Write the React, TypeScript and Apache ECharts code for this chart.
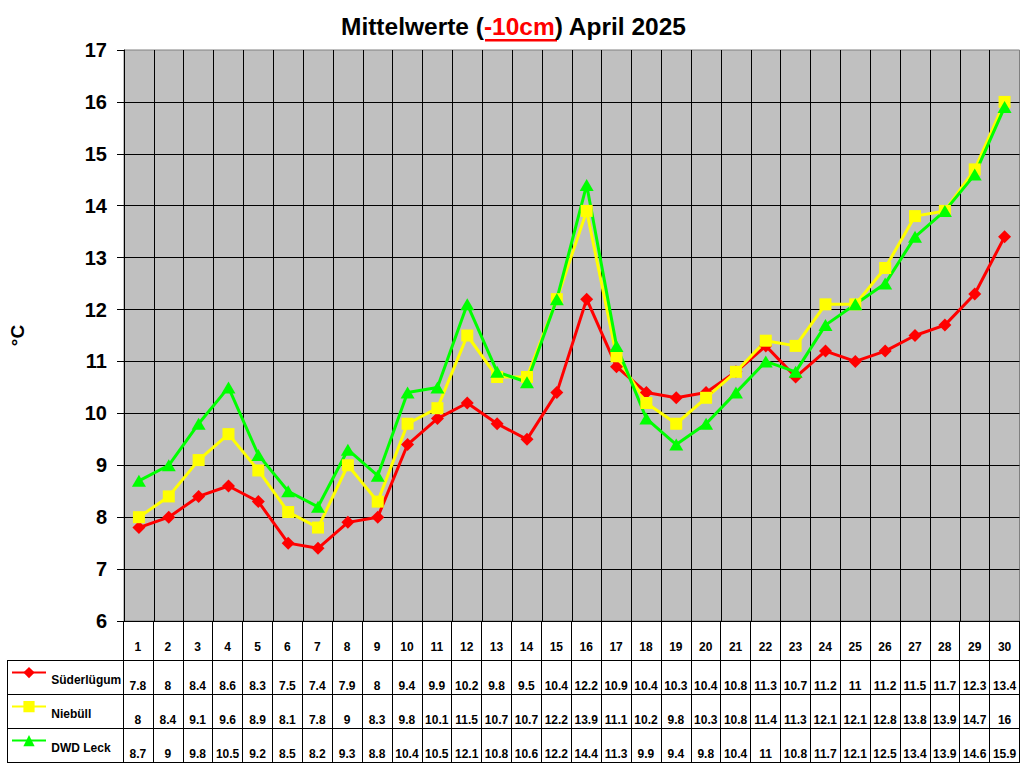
import React, { useEffect, useRef } from 'react'
import * as echarts from 'echarts'

const days = ['1', '2', '3', '4', '5', '6', '7', '8', '9', '10', '11', '12', '13', '14', '15', '16', '17', '18', '19', '20', '21', '22', '23', '24', '25', '26', '27', '28', '29', '30']
const suederluegum = [7.8, 8, 8.4, 8.6, 8.3, 7.5, 7.4, 7.9, 8, 9.4, 9.9, 10.2, 9.8, 9.5, 10.4, 12.2, 10.9, 10.4, 10.3, 10.4, 10.8, 11.3, 10.7, 11.2, 11, 11.2, 11.5, 11.7, 12.3, 13.4]
const niebuell = [8, 8.4, 9.1, 9.6, 8.9, 8.1, 7.8, 9, 8.3, 9.8, 10.1, 11.5, 10.7, 10.7, 12.2, 13.9, 11.1, 10.2, 9.8, 10.3, 10.8, 11.4, 11.3, 12.1, 12.1, 12.8, 13.8, 13.9, 14.7, 16]
const dwdLeck = [8.7, 9, 9.8, 10.5, 9.2, 8.5, 8.2, 9.3, 8.8, 10.4, 10.5, 12.1, 10.8, 10.6, 12.2, 14.4, 11.3, 9.9, 9.4, 9.8, 10.4, 11, 10.8, 11.7, 12.1, 12.5, 13.4, 13.9, 14.6, 15.9]

const FONT = '"Liberation Sans", Arial, sans-serif'
const LEFT = 123
const RIGHT = 4.5
const ROW_TOP = 660.5
const ROW_H = 34

const rows = [
  { name: 'Süderlügum', data: suederluegum, color: '#ff0000', symbol: 'diamond', size: 13 },
  { name: 'Niebüll', data: niebuell, color: '#ffff00', symbol: 'rect', size: 12 },
  { name: 'DWD Leck', data: dwdLeck, color: '#00ff00', symbol: 'triangle', size: [14, 12] },
]

const black = { color: '#000', width: 1 }

export default function App(): JSX.Element {
  const ref = useRef<HTMLDivElement>(null)

  useEffect(() => {
    if (!ref.current) return
    const chart = echarts.init(ref.current, null, { renderer: 'svg' })

    const cellLabel = { fontFamily: FONT, fontWeight: 'bold' as const, fontSize: 12, color: '#000' }

    const grids: any[] = [
      { left: LEFT, right: RIGHT, top: 50, height: 571, show: true, backgroundColor: '#c0c0c0', borderColor: '#808080', borderWidth: 1 },
      { left: LEFT, right: RIGHT, top: 621, height: ROW_TOP - 621 },
      ...rows.map((_, i) => ({ left: LEFT, right: RIGHT, top: ROW_TOP + i * ROW_H, height: ROW_H })),
      { left: 7, width: LEFT - 7, top: ROW_TOP, height: ROW_H * 3 },
    ]

    const xAxes: any[] = [
      {
        type: 'category', gridIndex: 0, data: days, boundaryGap: true,
        axisLine: { lineStyle: black }, axisTick: { show: false }, axisLabel: { show: false },
        splitLine: { show: true, showMaxLine: false, lineStyle: black },
      },
      {
        type: 'category', gridIndex: 1, data: days, boundaryGap: true,
        axisLine: { lineStyle: black }, axisTick: { show: false },
        axisLabel: { ...cellLabel, inside: true, margin: 8, interval: 0 },
        splitLine: { show: true, lineStyle: black },
      },
      ...rows.map((r, i) => ({
        type: 'category', gridIndex: i + 2, data: days, boundaryGap: true,
        axisLine: { lineStyle: black }, axisTick: { show: false },
        axisLabel: { ...cellLabel, inside: true, margin: 3, interval: 0, formatter: (_: string, idx: number) => String(r.data[idx]) },
        splitLine: { show: true, lineStyle: black },
      })),
      {
        type: 'value', gridIndex: 5, min: 0, max: 1, interval: 1,
        axisLine: { show: false }, axisTick: { show: false }, axisLabel: { show: false },
        splitLine: { show: true, lineStyle: black },
      },
    ]

    const yAxes: any[] = [
      {
        type: 'value', gridIndex: 0, min: 6, max: 17, interval: 1,
        name: '°C', nameLocation: 'middle', nameGap: 97, nameRotate: 90,
        nameTextStyle: { fontFamily: FONT, fontWeight: 'bold', fontSize: 19, color: '#000' },
        axisLine: { show: true, lineStyle: black },
        axisTick: { show: true, length: 7, lineStyle: black },
        axisLabel: { fontFamily: FONT, fontWeight: 'bold', fontSize: 20, color: '#000', margin: 17 },
        splitLine: { show: true, showMaxLine: false, showMinLine: false, lineStyle: black },
      },
      { type: 'value', gridIndex: 1, min: 0, max: 1, show: false },
      ...rows.map((_, i) => ({ type: 'value', gridIndex: i + 2, min: 0, max: 1, show: false })),
      {
        type: 'value', gridIndex: 5, min: 0, max: 3, interval: 1,
        axisLine: { show: false }, axisTick: { show: false }, axisLabel: { show: false },
        splitLine: { show: true, lineStyle: black },
      },
    ]

    chart.setOption({
      animation: false,
      backgroundColor: '#fff',
      title: {
        text: '{a|Mittelwerte (}{b|-10cm}{a|) April 2025}',
        left: 341, top: 14, padding: 0,
        textStyle: {
          rich: {
            a: { fontFamily: FONT, fontWeight: 'bold', fontSize: 24.5, color: '#000' },
            b: { fontFamily: FONT, fontWeight: 'bold', fontSize: 24.5, color: '#ff0000' },
          },
        },
      },
      graphic: [
        { type: 'rect', left: 485, top: 39, shape: { width: 72, height: 2.5 }, style: { fill: '#ff0000' }, silent: true },
      ],
      legend: rows.map((r, i) => ({
        orient: 'vertical', left: 11, top: 667 + i * ROW_H, padding: 0,
        itemWidth: 34, itemHeight: 14,
        selectedMode: false,
        formatter: '{s| }{t|{name}}',
        textStyle: {
          rich: {
            s: { fontSize: 1, lineHeight: 26 },
            t: { fontFamily: FONT, fontWeight: 'bold', fontSize: 12, color: '#000', lineHeight: 14, verticalAlign: 'bottom' },
          },
        },
        data: [r.name],
      })),
      grid: grids,
      xAxis: xAxes,
      yAxis: yAxes,
      series: rows.map(r => ({
        name: r.name, type: 'line', xAxisIndex: 0, yAxisIndex: 0, data: r.data,
        symbol: r.symbol, symbolSize: r.size, showAllSymbol: true,
        itemStyle: { color: r.color },
        lineStyle: { color: r.color, width: 3 },
        emphasis: { disabled: true },
      })),
    })

    return () => { chart.dispose() }
  }, [])

  return <div ref={ref} style={{ position: 'fixed', left: 0, top: 0, width: 1024, height: 768, background: '#fff' }} />
}
